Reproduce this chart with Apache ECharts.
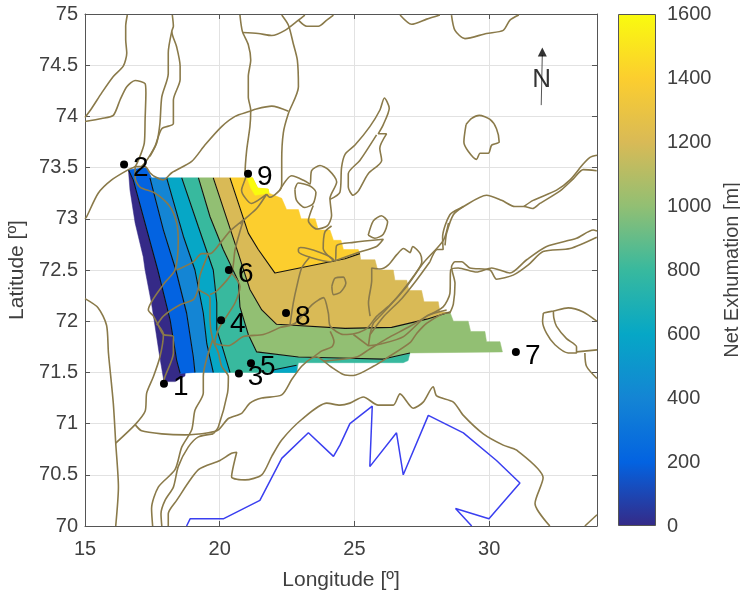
<!DOCTYPE html>
<html><head><meta charset="utf-8">
<style>html,body{margin:0;padding:0;background:#fff}#c{width:740px;height:593px}</style>
<script src="https://cdn.jsdelivr.net/npm/echarts@6/dist/echarts.min.js"></script></head>
<body><div id="c"></div>
<script>
const parula=['#352a87','#0363e1','#1485d4','#06a7c6','#38b99e','#92bf73','#d9ba56','#fcce2e','#f9fb0e'];
const colorTicks=[0,200,400,600,800,1000,1200,1400,1600];
const siteNames=['1','2','3','4','5','6','7','8','9'];
const siteLon=[17.93,16.45,20.71,20.05,21.16,20.34,30.99,22.46,21.05];
const siteLat=[71.39,73.53,71.49,72.01,71.59,72.50,71.70,72.08,73.44];

// contour lines (lon,lat)
const c0=[[16.61,73.48],[16.67,73.28],[16.86,72.96],[17.16,72.63],[17.23,72.5],[17.47,72.17],[17.60,71.95],[17.75,71.69],[17.93,71.41],[18.34,71.41],[18.71,71.465],[18.72,71.50]];
const c1=[[16.61,73.48],[16.79,73.38],[17.70,72.50],[18.16,72.01],[18.40,71.62],[18.53,71.49]];
const c2=[[17.41,73.40],[17.91,72.89],[18.37,72.50],[18.77,72.08],[19.02,71.65],[19.08,71.50]];
const c3=[[18.03,73.40],[18.65,72.83],[19.08,72.50],[19.39,72.08],[19.52,71.78],[19.76,71.50]];
const c4=[[18.59,73.40],[19.21,72.92],[19.76,72.50],[19.89,72.18],[19.89,71.92],[20.13,71.72],[20.38,71.50]];
const c5=[[19.21,73.40],[19.64,73.02],[20.13,72.70],[20.69,72.39],[20.75,72.14],[21.06,71.87],[21.37,71.70],[22.92,71.65],[24.46,71.64],[26.07,71.63],[27.06,71.69]];
const c6=[[19.76,73.40],[20.44,72.86],[20.69,72.66],[21.12,72.31],[21.56,72.11],[22.11,71.97],[24.65,71.93],[26.38,71.94],[27.68,72.02],[28.54,72.09]];
const c7=[[20.38,73.40],[21.06,72.86],[21.43,72.70],[22.05,72.47],[24.65,72.61],[25.20,72.66]];
const tipLine=[[21.93,71.52],[22.11,71.53],[22.85,71.57]];
// domain edges
const blueTop=[[17.47,73.40],[17.29,73.50],[16.61,73.48]];
const stairsA=[[21.22,73.40],[21.41,73.30],[21.80,73.29],[21.83,73.25],[22.30,73.20],[22.48,73.09],[22.92,73.09],[23.02,73.00],[23.54,73.00],[23.66,72.89],[24.09,72.89],[24.22,72.79],[24.50,72.79],[24.59,72.70],[25.14,72.70],[25.20,72.66]];
const stairsB=[[25.20,72.66],[25.23,72.60],[25.76,72.60],[25.86,72.50],[26.44,72.50],[26.50,72.40],[26.94,72.40],[27.02,72.30],[27.49,72.30],[27.58,72.19],[28.11,72.19],[28.17,72.09],[28.54,72.09]];
const stairsC=[[28.54,72.09],[28.67,72.0],[29.22,72.0],[29.31,71.90],[29.84,71.90],[29.90,71.80],[30.40,71.80],[30.49,71.70],[27.06,71.69]];
const tealBottom=[[22.85,71.50],[22.92,71.595],[26.81,71.595],[26.99,71.615]];
const yellowPatch=[[21.02,73.40],[21.15,73.30],[21.31,73.23],[21.83,73.25],[21.80,73.29],[21.41,73.30],[21.22,73.40]];
const cyanTip=[[21.93,71.52],[22.11,71.53],[22.85,71.57],[22.87,71.50],[21.93,71.50]];
const rev=a=>a.slice().reverse();
const bands=[
 {c:0,p:[...c0,...rev(c1)]},
 {c:1,p:[...c1,...rev(c2),...blueTop]},
 {c:2,p:[...c2,...rev(c3)]},
 {c:3,p:[...c3,...rev(c4)]},
 {c:4,p:[...c4,...tealBottom,...rev(c5)]},
 {c:5,p:[...c5,...rev(stairsC),...rev(c6)]},
 {c:6,p:[...c6,...rev(stairsB),...rev(c7)]},
 {c:7,p:[...c7,...rev(stairsA)]},
 {c:8,p:yellowPatch},
 {c:3,p:cyanTip}
];

// coastlines (lon,lat)
const coastA=[[16.57,74.99],[16.51,74.88],[16.51,74.75],[16.55,74.62],[16.42,74.49],[16.05,74.39],[15.62,74.23],[15.25,74.08],[15,73.99]];
const coastB=[[15,73.95],[15.62,73.98],[16.05,74.01],[16.30,74.16],[16.55,74.29],[16.86,74.35],[17.23,74.32],[17.26,74.23],[17.23,73.97],[17.20,73.74],[17.04,73.61],[16.86,73.51],[16.61,73.48],[15.99,73.38],[15.49,73.25],[15.06,73.02],[15,73.0]];
const coastC=[[16.86,73.51],[16.86,73.40],[17.04,73.31],[17.60,73.25],[18.15,73.12],[18.40,72.96],[18.46,72.79],[18.34,72.50],[17.91,72.36],[17.35,72.11],[17.54,72.05],[17.72,71.96],[17.91,71.87],[18.28,71.85],[18.28,71.69],[17.97,71.46],[17.91,71.40]];
const coastD=[[17.72,71.96],[17.91,71.87],[17.78,71.65],[17.54,71.46],[17.29,71.30],[17.23,71.12],[16.86,70.99],[16.14,70.81]];
const coastE=[[15,72.22],[15.49,72.13],[15.80,71.96],[15.87,71.69],[16.05,71.20],[16.14,70.81],[16.24,70.38],[16.14,70.0]];
const coastF=[[16.86,70.99],[17.10,70.93],[17.85,70.90],[18.71,70.89],[19.58,70.91],[19.95,70.94],[20.32,71.05],[20.81,71.10],[21.12,71.20],[21.56,71.25],[22.30,71.28],[22.67,71.43],[23.04,71.56],[23.41,71.64],[23.60,71.65],[24.10,71.56],[24.59,71.48],[24.96,71.47],[25.70,71.56],[26.20,71.64],[27.06,71.79],[27.31,71.88],[27.68,71.98],[28.42,72.08],[28.54,72.08]];
const coastG=[[28.54,72.08],[28.67,72.17],[28.73,72.37],[28.60,72.53],[28.73,72.58],[28.98,72.58],[29.28,72.52],[30.03,72.50],[30.27,72.41],[30.89,72.45],[31.45,72.55],[32.0,72.68],[33.0,72.71],[33.99,72.82]];
const coastH=[[27.68,72.05],[28.29,72.14],[28.54,72.27],[28.57,72.50],[28.85,72.52],[29.53,72.48],[30.09,72.52],[30.77,72.47],[31.39,72.60],[32.13,72.73],[33.24,72.81],[33.86,72.89],[34,72.88]];
const coastI=[[22.24,71.94],[22.80,71.98],[23.42,72.16],[23.85,72.23],[24.03,72.08],[24.10,71.95],[24.59,71.87],[25.02,71.88],[25.46,71.93],[25.83,72.05],[26.32,72.16],[26.94,72.34],[27.56,72.57],[28.30,72.79],[28.49,72.96]];
const coastJ=[[27.80,72.58],[28.07,72.70],[28.29,72.70],[28.27,72.82],[28.54,73.04],[28.98,73.11],[29.90,73.23],[30.46,73.18],[30.95,73.12],[31.29,73.12],[31.61,73.10],[31.88,73.15],[32.62,73.27],[33.12,73.39],[33.49,73.48],[33.99,73.47]];
const coastK=[[31.29,73.12],[31.63,73.18],[32.50,73.28],[33.0,73.38],[33.47,73.53],[33.74,73.60],[34,73.62]];
const coastL=[[28.36,72.74],[28.42,72.86],[28.67,73.04],[29.04,73.12]];
const coastM=[[25.58,72.05],[25.52,72.18],[25.64,72.40],[25.64,72.52],[25.95,72.51],[26.26,72.55],[26.57,72.65],[26.82,72.71],[27.06,72.67],[27.16,72.73],[27.44,72.66],[27.50,72.58],[27.19,72.44],[26.57,72.23],[25.95,72.05],[25.70,71.98],[25.58,71.87],[25.52,71.76],[26.01,71.78],[26.82,71.85],[27.68,72.05],[28.42,72.11]];
const coastN=[[24.96,71.87],[25.52,71.76]];
const coastO=[[24.10,71.90],[24.24,71.80],[24.16,71.75],[23.79,71.71],[23.48,71.65]];
const coastP=[[23.85,71.61],[25.08,71.65],[25.52,71.72],[26.20,71.83],[27.06,71.95],[27.68,72.05]];
const coastQ=[[27.80,72.58],[27.30,72.40],[26.75,72.22],[26.10,72.05],[25.58,71.87]];
const islandOval=[[24.16,72.34],[24.28,72.42],[24.59,72.43],[24.68,72.37],[24.47,72.28],[24.22,72.26],[24.16,72.34]];
const coastR=[[23.35,72.63],[23.04,72.52],[22.86,72.34],[22.73,72.18],[22.61,71.97]];
const islandBar=[[22.92,72.71],[23.0,72.72],[24.22,72.60],[24.12,72.58],[22.92,72.68],[22.92,72.71]];
const coastS=[[24.15,72.93],[23.90,72.87],[23.84,72.71],[24.28,72.59],[24.34,72.74],[24.96,72.77],[26.07,72.80],[25.82,72.73],[25.14,72.67],[24.28,72.59]];
const islandSmall=[[25.51,72.84],[25.70,72.98],[26.0,73.03],[26.23,72.97],[26.07,72.85],[25.76,72.81],[25.51,72.84]];
const coastT=[[20.75,74.99],[20.84,74.83],[21.06,74.70],[21.15,74.55],[21.06,74.39],[21.06,74.19],[21.15,74.06],[21.12,73.90],[21.0,73.67],[20.94,73.44],[20.97,73.42],[20.81,73.28],[21.18,73.15],[21.74,73.24],[21.37,73.10],[20.94,73.0],[20.75,72.95],[20.88,72.99],[20.38,72.88],[20.01,72.76],[19.64,72.66],[19.33,72.66],[19.02,72.58],[18.40,72.50]];
const coastU=[[20.84,74.82],[21.43,74.81],[21.93,74.79],[22.42,74.84],[22.92,74.94],[23.16,74.99]];
const coastV=[[22.30,74.99],[22.55,74.89],[22.73,74.71],[22.88,74.55],[22.92,74.29],[22.55,74.03],[22.36,73.84],[22.30,73.57],[22.30,73.34],[22.23,73.28],[21.86,73.21],[21.74,73.24]];
const coastW=[[22.92,74.94],[23.23,74.88],[23.66,74.88],[23.97,74.94],[24.22,74.99]];
const coastX=[[26.69,74.99],[27.12,74.90],[27.68,74.95],[28.17,74.99]];
const coastY=[[28.60,74.99],[28.73,74.84],[29.10,74.76],[29.90,74.81],[30.52,74.84],[30.77,74.94],[31.10,74.99]];
const coastZ=[[22.55,74.05],[21.93,74.10],[21.31,74.07],[21.12,74.05],[20.57,74.0],[20.07,73.90],[19.45,73.72],[18.96,73.56],[18.22,73.45],[17.91,73.38],[17.60,73.41],[17.41,73.45],[17.23,73.51],[16.86,73.51]];
const coastAA=[[18.24,74.99],[18.28,74.88],[18.22,74.83],[18.40,74.68],[18.53,74.49],[18.53,74.36],[18.28,74.16],[18.28,73.93],[17.85,73.88],[17.60,73.71],[17.29,73.57],[17.10,73.51]];
const coastAB=[[18.22,74.83],[18.09,74.62],[18.09,74.42],[17.85,74.19],[17.78,73.93],[17.66,73.74],[17.41,73.61]];
const islandLoop=[[22.79,73.29],[22.91,73.35],[23.35,73.32],[23.57,73.26],[23.47,73.15],[23.16,73.11],[22.85,73.18],[22.79,73.29]];
const coastAC=[[22.23,73.28],[22.67,73.42],[23.16,73.37],[23.35,73.34],[23.41,73.47],[23.72,73.52],[24.03,73.48],[24.34,73.36],[24.09,73.20],[24.15,73.03],[23.99,72.93],[23.60,72.90],[23.29,72.98],[23.47,73.13]];
const coastAD=[[24.09,73.19],[24.46,73.26],[24.52,73.50],[24.65,73.63],[25.02,73.72],[25.57,73.90],[25.94,74.06],[26.11,74.18],[26.29,74.08],[26.07,73.92],[25.88,73.83],[26.19,73.83],[25.94,73.69],[26.01,73.57],[25.51,73.44],[25.14,73.27],[24.95,73.23],[24.77,73.31],[24.77,73.44],[25.20,73.57],[25.82,73.82]];
const islandRound=[[29.14,73.92],[29.35,73.98],[29.63,74.01],[30.03,73.97],[30.27,73.88],[30.37,73.75],[30.09,73.72],[29.97,73.64],[29.66,73.64],[29.53,73.58],[29.22,73.66],[29.06,73.75],[29.14,73.92]];
const coastAE=[[19.58,72.66],[19.27,72.45],[19.21,72.32],[19.64,72.23],[19.64,72.01],[19.74,71.82],[19.95,71.69],[20.07,71.56],[20.32,71.46],[20.29,71.30],[19.95,70.97],[19.76,70.90]];
const coastAF=[[19.21,72.32],[19.02,72.21],[18.53,72.16],[17.91,72.05],[17.66,71.96]];
const coastAG=[[19.64,72.26],[19.91,72.30],[20.44,72.47],[20.57,72.70],[20.88,72.99]];
const coastAH=[[20.44,72.47],[20.75,72.34],[20.57,72.18],[20.26,72.05],[19.95,71.92],[19.82,71.79],[20.32,71.76],[20.88,71.85],[21.62,71.87],[22.24,71.94]];
const coastAI=[[19.74,71.82],[19.39,71.46],[19.39,71.30],[19.08,71.13],[18.96,70.94],[18.59,70.77],[18.34,70.55],[17.72,70.38],[17.47,70.17],[17.51,70.0]];
const coastAJ=[[19.76,70.90],[19.21,70.87],[18.83,70.77],[18.46,70.58],[18.28,70.38],[17.97,70.25],[17.82,70.12],[17.85,70.0]];
const coastAK=[[18.09,70.0],[18.09,70.12],[18.40,70.25],[19.21,70.55],[20.01,70.64],[20.44,70.71],[20.63,70.72],[20.44,70.48],[20.94,70.45],[21.56,70.50],[21.93,70.68],[22.30,70.84],[23.04,71.04],[23.97,71.20],[24.46,71.18],[24.83,71.20],[25.33,71.26],[25.88,71.18],[26.44,71.18],[26.69,71.29],[27.18,71.15],[27.55,71.21],[27.92,71.36],[28.05,71.27],[28.67,71.21],[29.04,71.08],[29.78,70.90],[30.52,70.79],[31.02,70.74],[32.0,70.47],[31.70,70.22],[32.25,70.0]];
const coastAL=[[33.55,70.0],[34,70.11]];
const coastAM=[[32.01,72.08],[32.38,72.10],[32.93,72.13],[33.49,72.09],[33.99,72.0]];
const coastAN=[[32.01,72.08],[31.98,72.0],[32.13,71.88],[32.44,71.77],[32.93,71.69],[33.24,71.69],[33.24,71.75],[32.87,71.83],[32.5,71.95],[32.40,72.03],[32.38,72.10]];
const coastAO=[[33.24,71.70],[34,71.72]];
const coastAP=[[33.55,71.69],[33.61,71.56],[34,71.44]];
const coasts=[coastA,coastB,coastC,coastD,coastE,coastF,coastG,coastH,coastI,coastJ,coastK,coastL,coastM,coastN,coastO,coastP,coastQ,islandOval,coastR,islandBar,coastS,islandSmall,coastT,coastU,coastV,coastW,coastX,coastY,coastZ,coastAA,coastAB,islandLoop,coastAC,coastAD,islandRound,coastAE,coastAF,coastAG,coastAH,coastAI,coastAJ,coastAK,coastAL,coastAM,coastAN,coastAO,coastAP];
const blueLine=[[18.77,70.0],[18.90,70.07],[20.13,70.07],[21.49,70.25],[22.30,70.66],[23.29,70.91],[24.22,70.68],[24.46,70.79],[24.83,71.0],[25.66,71.17],[25.57,70.58],[26.56,70.91],[26.81,70.50],[27.74,71.08],[29.04,70.91],[30.27,70.64],[31.14,70.42],[29.99,70.07],[28.75,70.17],[29.35,70.0]];
const northLine=[[31.97,74.60],[31.93,74.11]];
const northLabel=[[31.95,74.36]];

const font='"Liberation Sans",Arial,sans-serif';
const txt='#404040', axc='#555';
const lineS=(d,color,w,z)=>({type:'line',data:d,symbol:'none',smooth:0.25,silent:true,animation:false,z,clip:true,lineStyle:{color,width:w}});
const straightS=(d,color,w,z)=>({type:'line',data:d,symbol:'none',silent:true,animation:false,z,clip:true,lineStyle:{color,width:w}});
const series=[];
series.push({type:'custom',coordinateSystem:'cartesian2d',xAxisIndex:0,yAxisIndex:0,z:2,silent:true,animation:false,
 data:bands.map(b=>b.p[0]),
 renderItem:(params,api)=>{const b=bands[params.dataIndex];const col=parula[b.c];
  return {type:'polygon',shape:{points:b.p.map(q=>api.coord(q))},style:{fill:col,stroke:col,lineWidth:0.5}};}});
[c1,c2,c3,c4,c5,c6,c7,tipLine].forEach(c=>series.push(straightS(c,'#111',1.1,3)));
coasts.forEach(c=>series.push(lineS(c,'#8a7a4a',1.6,4)));
series.push(straightS(blueLine,'#3a3ff0',1.5,4));
series.push(straightS(northLine,'#555',1,5));
series.push({type:'scatter',data:[northLine[0]],symbol:'triangle',symbolSize:[9,9],symbolOffset:[0,-3],itemStyle:{color:'#000'},z:6,silent:true,animation:false});
series.push({type:'scatter',data:northLabel,symbol:'circle',symbolSize:1,itemStyle:{color:'transparent'},silent:true,animation:false,z:7,
 label:{show:true,position:'inside',formatter:'N',fontFamily:font,fontSize:26,color:'#000'}});
series.push({type:'scatter',data:siteLon.map((x,i)=>[x,siteLat[i]]),symbolSize:8,itemStyle:{color:'#000',opacity:1},z:8,silent:true,animation:false,
 label:{show:true,position:'right',distance:4,offset:[1,4],formatter:p=>siteNames[p.dataIndex],fontFamily:font,fontSize:28,color:'#000'}});
series.push({type:'bar',xAxisIndex:2,yAxisIndex:2,data:[1600],barWidth:'100%',silent:true,animation:false,
 itemStyle:{borderColor:axc,borderWidth:1,color:new echarts.graphic.LinearGradient(0,1,0,0,parula.map((c,i)=>({offset:i/(parula.length-1),color:c})))}});

const plain=v=>String(v);
const chart=echarts.init(document.getElementById('c'),null,{renderer:'canvas'});
chart.setOption({
 animation:false,backgroundColor:'#fff',
 grid:[{left:85,top:14,width:512,height:512,show:false,outerBoundsMode:'none'},{left:618,top:14,width:38,height:512,show:false,outerBoundsMode:'none'}],
 xAxis:[
  {type:'value',gridIndex:0,min:15,max:34,interval:5,position:'bottom',name:'Longitude [º]',nameLocation:'middle',nameGap:44,
   nameTextStyle:{fontFamily:font,fontSize:21,color:txt},
   axisLine:{show:true,onZero:false,lineStyle:{color:axc}},axisTick:{inside:true,length:5,lineStyle:{color:axc}},
   axisLabel:{fontFamily:font,fontSize:20,color:txt,margin:13,showMaxLabel:false,formatter:plain},
   splitLine:{show:true,lineStyle:{color:'#e2e2e2',width:1}}},
  {type:'value',gridIndex:0,min:15,max:34,interval:5,position:'top',axisLine:{show:true,onZero:false,lineStyle:{color:axc}},axisTick:{inside:true,length:5,lineStyle:{color:axc}},axisLabel:{show:false},splitLine:{show:false}},
  {type:'category',gridIndex:1,data:[''],axisLine:{show:false},axisTick:{show:false},axisLabel:{show:false}}
 ],
 yAxis:[
  {type:'value',gridIndex:0,min:70,max:75,interval:0.5,position:'left',name:'Latitude [º]',nameLocation:'middle',nameGap:56,
   nameTextStyle:{fontFamily:font,fontSize:21,color:txt},
   axisLine:{show:true,onZero:false,lineStyle:{color:axc}},axisTick:{inside:true,length:5,lineStyle:{color:axc}},
   axisLabel:{fontFamily:font,fontSize:20,color:txt,margin:7,padding:[4,0,0,0],formatter:plain},
   splitLine:{show:true,lineStyle:{color:'#e2e2e2',width:1}}},
  {type:'value',gridIndex:0,min:70,max:75,interval:0.5,position:'right',axisLine:{show:true,onZero:false,lineStyle:{color:axc}},axisTick:{inside:true,length:5,lineStyle:{color:axc}},axisLabel:{show:false},splitLine:{show:false}},
  {type:'value',gridIndex:1,min:colorTicks[0],max:colorTicks[colorTicks.length-1],interval:200,position:'right',name:'Net Exhumation [m]',nameLocation:'middle',nameGap:66,nameRotate:90,
   nameTextStyle:{fontFamily:font,fontSize:20,color:txt},
   axisLine:{show:false},axisTick:{inside:true,length:4,lineStyle:{color:'#222'}},
   axisLabel:{fontFamily:font,fontSize:20,color:txt,margin:11,padding:[4,0,0,0],formatter:plain},splitLine:{show:false},z:5}
 ],
 series
});
</script></body></html>
